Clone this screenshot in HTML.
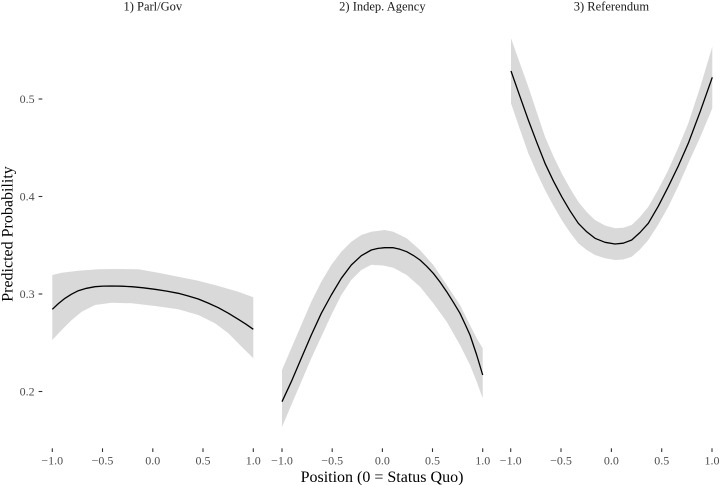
<!DOCTYPE html>
<html>
<head>
<meta charset="utf-8">
<style>
  html, body { margin: 0; padding: 0; background: #ffffff; }
  svg { display: block; }
  text { font-family: "Liberation Serif", "DejaVu Serif", serif; }
</style>
</head>
<body>
<svg width="720" height="485" viewBox="0 0 720 485" xmlns="http://www.w3.org/2000/svg">
  <rect x="0" y="0" width="720" height="485" fill="#ffffff"/>

  <!-- Strip labels -->
  <text x="152.8" y="10.3" font-size="12.5" fill="#1a1a1a" text-anchor="middle">1) Parl/Gov</text>
  <text x="382.4" y="10.3" font-size="12.5" fill="#1a1a1a" text-anchor="middle">2) Indep. Agency</text>
  <text x="611.4" y="10.3" font-size="12.5" fill="#1a1a1a" text-anchor="middle">3) Referendum</text>

  <!-- Panel 1 ribbon -->
  <polygon fill="#d9d9d9" points="52.3,275 61.7,272.7 78.3,270.7 98.3,269.3 118.3,269 138.3,269.3 158.3,272.7 178.3,276.7 198.3,280.7 218.3,286 238.3,291.7 253.3,297.3 253.3,358.3 241.7,346.7 228.3,333.3 215,323.3 198.3,315 178.3,309.3 155,306 131.7,303.3 111.7,302.7 95,305 81.7,311.7 71.7,320 61.7,330 52.3,340"/>
  <polyline fill="none" stroke="#000" stroke-width="1.3" stroke-linejoin="round" points="52.3,309.3 58.5,303.5 65,298.3 71.5,294.2 78.3,290.7 86.5,288.3 95,286.7 103.3,286.1 111.7,286 121.7,286.2 131.7,286.7 143.3,287.8 155,289.3 166.7,291.1 178.3,293.3 188.3,296 198.3,299 208.3,303.1 218.3,307.7 228.3,313.2 238.3,319.3 246,324.2 253.3,329.3"/>

  <!-- Panel 2 ribbon -->
  <polygon fill="#d9d9d9" points="282,370 291.3,348.3 301.3,325 311.3,301.7 321.3,281.7 331.3,265 341.3,251.7 351.3,241.7 361.3,235 371.3,231.7 384.7,230 393.3,231.7 406.7,238.3 420,250 433.3,265 446.7,285 460,305 470,325 476.7,338.3 482.7,348.3 482.7,398.3 476.7,381.7 470,365 460,345 446.7,321.7 433.3,303.3 420,286.7 406.7,275 393.3,267.7 383,265.5 371.3,264.8 361.3,270 351.3,280 341.3,295 331.3,315 321.3,336.7 311.3,358.3 301.3,381.7 291.3,405 282,427"/>
  <polyline fill="none" stroke="#000" stroke-width="1.3" stroke-linejoin="round" points="282,401.7 291.3,381.7 301.3,358.3 311.3,335 321.3,313.3 331.3,295 341.3,278.3 351.3,265 361.3,255.7 371.3,250 378,248.4 384.7,247.7 393.3,247.7 400,249.3 406.7,251.7 413.3,255.4 420,260 426.7,266.3 433.3,273.3 440,282 446.7,291.7 453.3,302.2 460,313.3 465,324 470,335 476.7,355 482.7,375"/>

  <!-- Panel 3 ribbon -->
  <polygon fill="#d9d9d9" points="511,38.3 519.7,62.7 528.3,86.7 536.7,112 545,136.7 553.3,156 561.7,173.3 570,188.3 578.3,201.7 586.7,212 595,220 605,225.5 615,228.3 623.3,227.8 631.7,225 640,217 648.3,206.7 658.3,189.5 668.3,170 678.3,147.5 688.3,123.3 700.3,86.7 712.3,46.7 712.3,108.3 700.3,137 688.3,163.3 678.3,186 668.3,206.7 658.3,224.5 648.3,240 640,249.5 631.7,256.7 623.3,259.5 615,260 605,258.3 595,255 586.7,250 578.3,243.3 570,232.5 561.7,220 553.3,205.5 545,190 536.7,172.5 528.3,153.3 519.7,128.7 511,103.3"/>
  <polyline fill="none" stroke="#000" stroke-width="1.3" stroke-linejoin="round" points="511,71 519.7,95.8 528.3,120 536.7,142.2 545,163.3 553.3,180.8 561.7,196.7 570,210.8 578.3,223.3 586.7,231.8 595,238.3 605,242.3 615,244 623.3,243.2 631.7,240 640,232.5 648.3,223.3 658.3,206.2 668.3,186.7 678.3,166 688.3,143.3 700.3,111.3 712.3,77.3"/>

  <!-- Y axis ticks & labels -->
  <g stroke="#333333" stroke-width="1.1">
    <line x1="38.6" y1="99" x2="42.3" y2="99"/>
    <line x1="38.6" y1="196.5" x2="42.3" y2="196.5"/>
    <line x1="38.6" y1="294" x2="42.3" y2="294"/>
    <line x1="38.6" y1="391.5" x2="42.3" y2="391.5"/>
  </g>
  <g font-size="12" fill="#4d4d4d" text-anchor="end">
    <text x="34.6" y="103.2">0.5</text>
    <text x="34.6" y="200.7">0.4</text>
    <text x="34.6" y="298.2">0.3</text>
    <text x="34.6" y="395.7">0.2</text>
  </g>

  <!-- X axis ticks -->
  <g stroke="#333333" stroke-width="1.1">
    <line x1="52.3" y1="448.3" x2="52.3" y2="452"/>
    <line x1="102.5" y1="448.3" x2="102.5" y2="452"/>
    <line x1="152.8" y1="448.3" x2="152.8" y2="452"/>
    <line x1="203" y1="448.3" x2="203" y2="452"/>
    <line x1="253.3" y1="448.3" x2="253.3" y2="452"/>
    <line x1="282" y1="448.3" x2="282" y2="452"/>
    <line x1="332.2" y1="448.3" x2="332.2" y2="452"/>
    <line x1="382.4" y1="448.3" x2="382.4" y2="452"/>
    <line x1="432.5" y1="448.3" x2="432.5" y2="452"/>
    <line x1="482.7" y1="448.3" x2="482.7" y2="452"/>
    <line x1="510.7" y1="448.3" x2="510.7" y2="452"/>
    <line x1="561" y1="448.3" x2="561" y2="452"/>
    <line x1="611.4" y1="448.3" x2="611.4" y2="452"/>
    <line x1="661.7" y1="448.3" x2="661.7" y2="452"/>
    <line x1="712" y1="448.3" x2="712" y2="452"/>
  </g>
  <g font-size="12" fill="#4d4d4d" text-anchor="middle">
    <text x="52.3" y="464.3">−1.0</text>
    <text x="102.5" y="464.3">−0.5</text>
    <text x="152.8" y="464.3">0.0</text>
    <text x="203" y="464.3">0.5</text>
    <text x="253.3" y="464.3">1.0</text>
    <text x="282" y="464.3">−1.0</text>
    <text x="332.2" y="464.3">−0.5</text>
    <text x="382.4" y="464.3">0.0</text>
    <text x="432.5" y="464.3">0.5</text>
    <text x="482.7" y="464.3">1.0</text>
    <text x="510.7" y="464.3">−1.0</text>
    <text x="561" y="464.3">−0.5</text>
    <text x="611.4" y="464.3">0.0</text>
    <text x="661.7" y="464.3">0.5</text>
    <text x="712" y="464.3">1.0</text>
  </g>

  <!-- Axis titles -->
  <text x="382" y="482" font-size="16" fill="#000" text-anchor="middle">Position (0 = Status Quo)</text>
  <text transform="translate(12.5,234) rotate(-90)" x="0" y="0" font-size="16" fill="#000" text-anchor="middle">Predicted Probability</text>
</svg>
</body>
</html>
